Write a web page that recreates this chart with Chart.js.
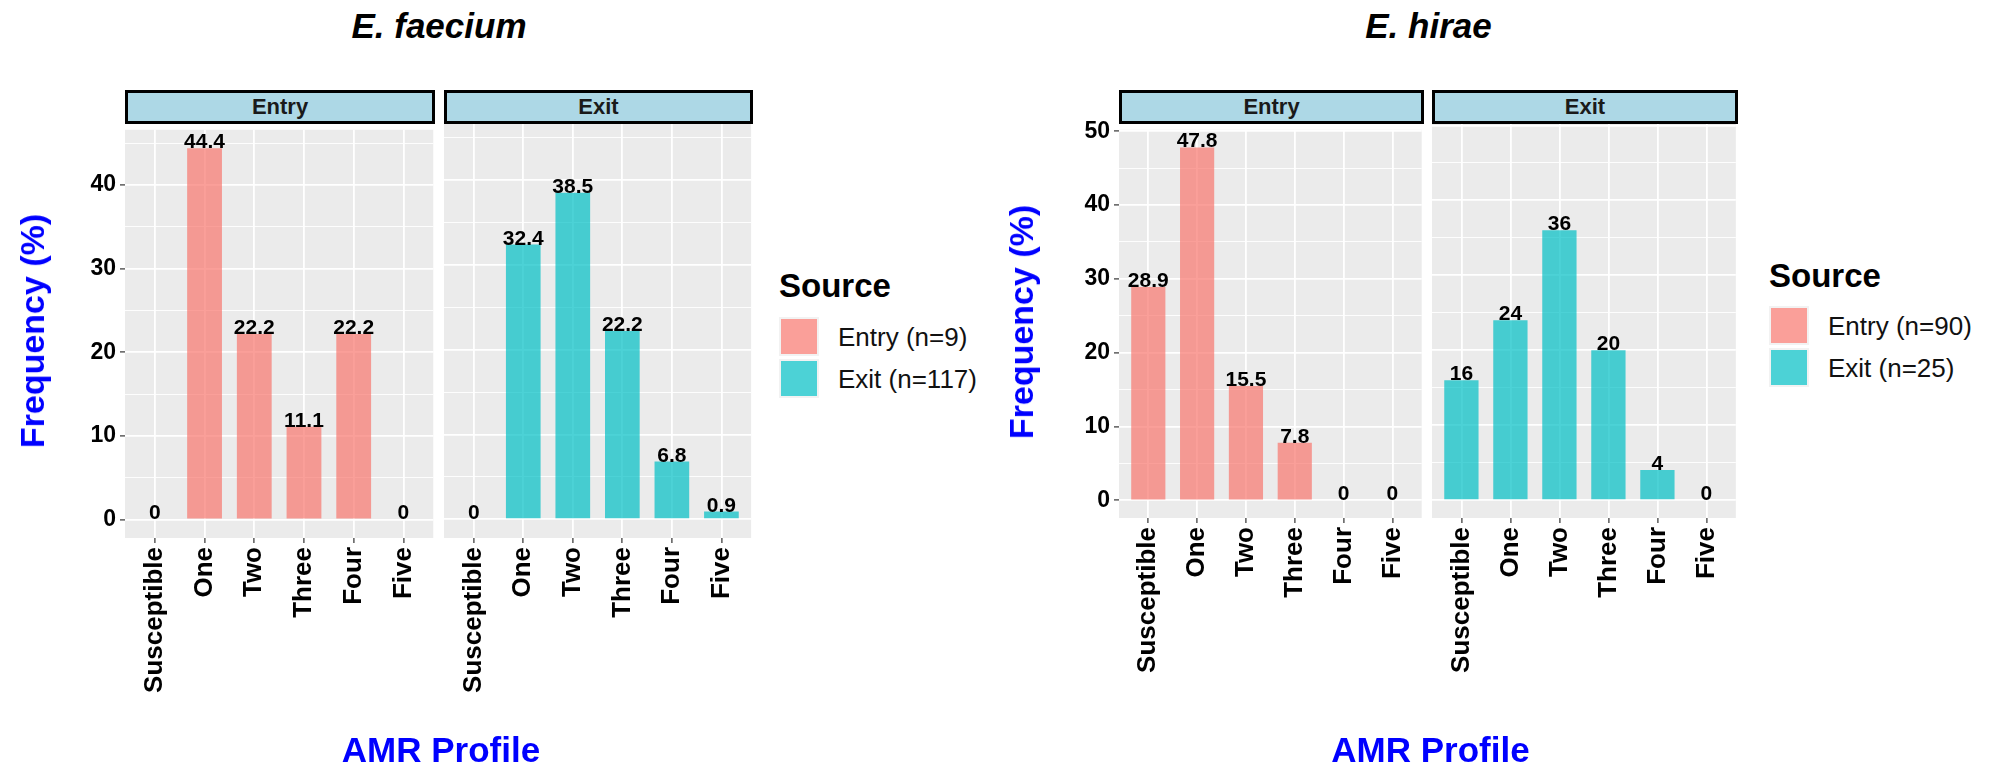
<!DOCTYPE html>
<html>
<head>
<meta charset="utf-8">
<script src="https://cdn.jsdelivr.net/npm/chart.js@4.4.1/dist/chart.umd.min.js"></script>
<style>
body{margin:0;width:1993px;height:771px;background:#fff;position:relative;overflow:hidden;font-family:"Liberation Sans",Arial,sans-serif;}
canvas{position:absolute;}
.txt{position:absolute;white-space:nowrap;line-height:1;}
.strip{position:absolute;box-sizing:border-box;border:3px solid #000;background:#ADD8E6;color:#1a1a1a;font-weight:bold;font-size:22px;text-align:center;line-height:28px;}
.key{position:absolute;width:36px;height:35px;box-shadow:0 0 0 2px #f2f2f2;}
</style>
</head>
<body>
<script>
"use strict";
const profiles=["Susceptible","One","Two","Three","Four","Five"];
const faeciumEntry=[0,44.4,22.2,11.1,22.2,0];
const faeciumExit=[0,32.4,38.5,22.2,6.8,0.9];
const hiraeEntry=[28.9,47.8,15.5,7.8,0,0];
const hiraeExit=[16,24,36,20,4,0];
const faeciumLegend=["Entry (n=9)","Exit (n=117)"];
const hiraeLegend=["Entry (n=90)","Exit (n=25)"];
const facets=["Entry","Exit"];
const faeciumYTicks=[0,5,10,15,20,25,30,35,40,45];
const hiraeYTicks=[0,5,10,15,20,25,30,35,40,45,50];

const ENTRY_COL="rgba(248,118,109,0.7)";
const EXIT_COL="rgba(0,191,196,0.7)";
const FONT="'Liberation Sans', Arial, sans-serif";

Chart.defaults.font.family=FONT;
Chart.defaults.animation=false;

//grey panel background
const panelBg={id:"panelBg",beforeDraw(chart){
    const a=chart.chartArea,c=chart.ctx;
    c.save();
    c.fillStyle="#EBEBEB";
    c.fillRect(a.left,a.top,a.right-a.left,a.bottom-a.top);
    c.restore();
}};

//numbers over the bars
const barText={id:"barText",afterDatasetsDraw(chart){
    const c=chart.ctx,meta=chart.getDatasetMeta(0),ys=chart.scales.y;
    c.save();
    c.font="bold 21px "+FONT;
    c.fillStyle="#000";
    c.textAlign="center";
    c.textBaseline="alphabetic";
    chart.data.datasets[0].data.forEach(function(d,i){
        c.fillText(String(d.y),meta.data[i].x,ys.getPixelForValue(d.y));
    });
    c.restore();
}};

function text(str,x,baseline,size,css){
    let d=document.createElement("div");
    d.className="txt";
    d.textContent=str;
    d.style.fontSize=size+"px";
    d.style.left=x+"px";
    d.style.top=(baseline-0.8465*size)+"px";
    Object.assign(d.style,css||{});
    document.body.appendChild(d);
    return d;
}

function isMajor(c){
    return c.tick&&c.tick.value%10===0;
}

function makePanel(area,values,color,yTop,yTicks,showY){
    const axisW=showY?(area.l>1000?119:125):0;
    const padT=12,padR=4;
    let cv=document.createElement("canvas");
    let left=area.l-axisW,top=area.t-padT;
    cv.width=area.r-area.l+axisW+padR;
    cv.height=771-top;
    cv.style.left=left+"px";
    cv.style.top=top+"px";
    document.body.appendChild(cv);

    new Chart(cv,{
        type:"bar",
        data:{datasets:[{
            data:values.map(function(v,i){return {x:i,y:v};}),
            backgroundColor:color,
            barPercentage:0.7,
            categoryPercentage:1
        }]},
        options:{
            responsive:false,
            animation:false,
            layout:{padding:{top:padT,right:padR,left:0,bottom:0}},
            plugins:{legend:{display:false},tooltip:{enabled:false}},
            scales:{
                x:{
                    type:"linear",min:-0.6,max:5.6,offset:false,
                    border:{display:false},
                    grid:{offset:false,color:"#fff",lineWidth:1.8,tickColor:"#333",tickLength:5,tickWidth:1.2},
                    ticks:{autoSkip:false,minRotation:90,maxRotation:90,
                        padding:4,color:"#000",font:{size:26,weight:"bold"},
                        callback:function(v){return profiles[v];}},
                    afterBuildTicks:function(s){s.ticks=profiles.map(function(p,i){return {value:i};});},
                    afterFit:function(s){s.height=771-area.b;}
                },
                y:{
                    min:-0.05*yTop,max:1.05*yTop,
                    border:{display:false},
                    grid:{
                        color:"#fff",
                        lineWidth:function(c){return isMajor(c)?1.8:0.9;},
                        tickColor:function(c){return showY&&isMajor(c)?"#333":"rgba(0,0,0,0)";},
                        tickLength:5,tickWidth:1.2,drawTicks:showY
                    },
                    ticks:{display:showY,padding:4,color:"#000",autoSkip:false,
                        font:{size:23,weight:"bold"},
                        callback:function(v){return v%10===0?v:"";}},
                    afterBuildTicks:function(s){s.ticks=yTicks.map(function(v){return {value:v};});},
                    afterFit:function(s){s.width=axisW;}
                }
            }
        },
        plugins:[panelBg,barText]
    });
}

function makeFacet(cfg){
    const yTop=Math.max.apply(null,cfg.entry.concat(cfg.exit));
    makePanel(cfg.panels[0],cfg.entry,ENTRY_COL,yTop,cfg.yTicks,true);
    makePanel(cfg.panels[1],cfg.exit,EXIT_COL,yTop,cfg.yTicks,false);

    cfg.panels.forEach(function(p,i){
        let s=document.createElement("div");
        s.className="strip";
        s.style.left=p.l+"px";
        s.style.top="90px";
        s.style.width=(p.r-p.l)+"px";
        s.style.height="34px";
        s.textContent=facets[i];
        document.body.appendChild(s);
    });

    const cx=(cfg.panels[0].l+cfg.panels[1].r)/2;
    text(cfg.title,cx,38,35,{fontWeight:"bold",fontStyle:"italic",transform:"translateX(-50%)"});
    text("AMR Profile",cx+2,762,35,{fontWeight:"bold",color:"#0000FF",transform:"translateX(-50%)"});

    text("Frequency (%)",cfg.yTitle[0],cfg.yTitle[1]+0.8465*34,34,
        {fontWeight:"bold",color:"#0000FF",transform:"translate(-50%,-50%) rotate(-90deg)"});

    const lg=cfg.legend;
    text("Source",lg.x,lg.y,33,{fontWeight:"bold"});
    [ENTRY_COL,EXIT_COL].forEach(function(col,i){
        let k=document.createElement("div");
        k.className="key";
        k.style.left=(lg.x+2)+"px";
        k.style.top=(lg.keyTop+i*42)+"px";
        k.style.background=col;
        document.body.appendChild(k);
        text(cfg.labels[i],lg.x+59,lg.keyTop+i*42+17.5+9.3,26,{color:"#111"});
    });
}

makeFacet({
    title:"E. faecium",
    entry:faeciumEntry,exit:faeciumExit,labels:faeciumLegend,yTicks:faeciumYTicks,
    panels:[{l:125,r:435,t:124,b:538},{l:444,r:753,t:124,b:538}],
    yTitle:[32,331],
    legend:{x:779,y:297,keyTop:319}
});
makeFacet({
    title:"E. hirae",
    entry:hiraeEntry,exit:hiraeExit,labels:hiraeLegend,yTicks:hiraeYTicks,
    panels:[{l:1119,r:1424,t:124,b:518},{l:1432,r:1738,t:124,b:518}],
    yTitle:[1021,322],
    legend:{x:1769,y:287,keyTop:308}
});
</script>
</body>
</html>
